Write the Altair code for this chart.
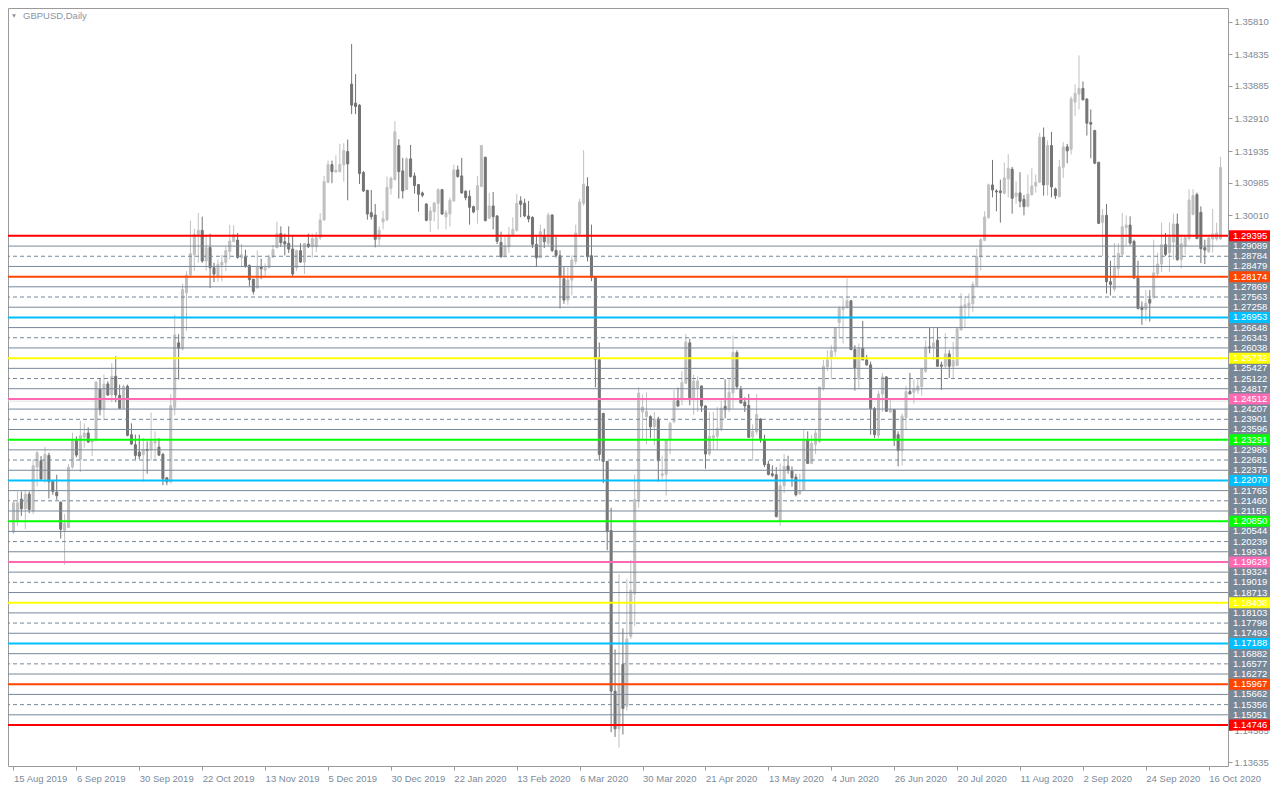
import altair as alt
import pandas as pd

# ---------------- data ----------------
date_labels = ["15 Aug 2019", "6 Sep 2019", "30 Sep 2019", "22 Oct 2019", "13 Nov 2019",
               "5 Dec 2019", "30 Dec 2019", "22 Jan 2020", "13 Feb 2020", "6 Mar 2020",
               "30 Mar 2020", "21 Apr 2020", "13 May 2020", "4 Jun 2020", "26 Jun 2020",
               "20 Jul 2020", "11 Aug 2020", "2 Sep 2020", "24 Sep 2020", "16 Oct 2020"]
LABEL_EVERY = 16

open_ = [
 1.2052,1.2086,1.2151,1.2122,1.2166,1.2115,1.2247,1.2266,1.2212,1.2282,
 1.2203,1.2172,1.2142,1.2058,1.2066,1.2247,1.2326,1.2269,1.2337,1.2349,
 1.2322,1.2329,1.2480,1.2421,1.2496,1.2463,1.2519,1.2462,1.2423,1.2489,
 1.2344,1.2314,1.2292,1.2285,1.2300,1.2298,1.2319,1.2307,1.2285,1.2215,
 1.2203,1.2426,1.2619,1.2601,1.2769,1.2822,1.2883,1.2943,1.2956,1.2864,
 1.2905,1.2844,1.2818,1.2852,1.2859,1.2893,1.2922,1.2927,1.2874,1.2876,
 1.2851,1.2810,1.2784,1.2847,1.2837,1.2844,1.2876,1.2904,1.2946,1.2922,
 1.2917,1.2900,1.2844,1.2895,1.2861,1.2915,1.2907,1.2907,1.2934,1.2987,
 1.3100,1.3153,1.3131,1.3132,1.3152,1.3192,1.3394,1.3337,1.3331,1.3129,
 1.3076,1.3009,1.3002,1.2929,1.2981,1.2988,1.3082,1.3108,1.3210,1.3134,
 1.3078,1.3170,1.3119,1.3093,1.3068,1.3035,1.2986,1.3012,1.3037,1.3078,
 1.2996,1.3005,1.3044,1.3137,1.3119,1.3073,1.3058,1.3027,1.3017,1.3088,
 1.3175,1.2992,1.3029,1.2999,1.2920,1.2881,1.2907,1.2941,1.2956,1.3044,
 1.3037,1.2999,1.2995,1.2914,1.2874,1.2937,1.2917,1.3002,1.2896,1.2880,
 1.2811,1.2747,1.2807,1.2863,1.2945,1.3037,1.3087,1.2880,1.2815,1.2569,
 1.2408,1.2264,1.2057,1.1576,1.1463,1.1656,1.1531,1.1740,1.1868,1.2150,
 1.2412,1.2398,1.2398,1.2368,1.2391,1.2222,1.2225,1.2329,1.2383,1.2446,
 1.2449,1.2498,1.2619,1.2451,1.2485,1.2490,1.2430,1.2286,1.2334,1.2339,
 1.2359,1.2429,1.2420,1.2469,1.2590,1.2480,1.2441,1.2432,1.2337,1.2352,
 1.2391,1.2327,1.2256,1.2227,1.2224,1.2088,1.2191,1.2250,1.2235,1.2217,
 1.2167,1.2178,1.2327,1.2258,1.2315,1.2323,1.2485,1.2547,1.2576,1.2593,
 1.2680,1.2719,1.2724,1.2745,1.2599,1.2511,1.2602,1.2568,1.2553,1.2422,
 1.2342,1.2466,1.2517,1.2412,1.2419,1.2344,1.2297,1.2395,1.2473,1.2471,
 1.2476,1.2488,1.2534,1.2607,1.2605,1.2627,1.2553,1.2549,1.2586,1.2549,
 1.2551,1.2658,1.2728,1.2730,1.2736,1.2790,1.2877,1.2926,1.2994,1.3092,
 1.3074,1.3074,1.3067,1.3110,1.3139,1.3057,1.3068,1.3049,1.3028,1.3063,
 1.3089,1.3100,1.3235,1.3092,1.3210,1.3080,1.3057,1.3145,1.3206,1.3198,
 1.3340,1.3364,1.3381,1.3349,1.3279,1.3255,1.3160,1.2980,1.3001,1.2802,
 1.2780,1.2842,1.2884,1.2964,1.2972,1.2923,1.2813,1.2726,1.2719,1.2750,
 1.2755,1.2826,1.2855,1.2913,1.2889,1.2921,1.2975,1.2868,1.2909,1.2931,
 1.3004,1.3063,1.3010,1.2904,1.2892,1.2930,1.2930,1.2930]

high = [
 1.2144,1.2174,1.2174,1.2179,1.2174,1.2271,1.2295,1.2280,1.2308,1.2290,
 1.2208,1.2224,1.2144,1.2106,1.2256,1.2350,1.2339,1.2386,1.2378,1.2366,
 1.2327,1.2504,1.2514,1.2524,1.2504,1.2558,1.2579,1.2494,1.2494,1.2494,
 1.2378,1.2344,1.2344,1.2334,1.2324,1.2410,1.2354,1.2334,1.2290,1.2217,
 1.2465,1.2703,1.2645,1.2796,1.2834,1.2985,1.2961,1.3008,1.2997,1.2943,
 1.2946,1.2859,1.2869,1.2883,1.2907,1.2973,1.2971,1.2948,1.2915,1.2898,
 1.2854,1.2810,1.2896,1.2871,1.2857,1.2883,1.2912,1.2982,1.2968,1.2946,
 1.2968,1.2941,1.2898,1.2917,1.2917,1.2946,1.2946,1.2951,1.3008,1.3119,
 1.3165,1.3165,1.3181,1.3215,1.3217,1.3228,1.3514,1.3424,1.3334,1.3134,
 1.3077,1.3077,1.3035,1.2968,1.3014,1.3117,1.3117,1.3283,1.3229,1.3173,
 1.3175,1.3212,1.3129,1.3095,1.3072,1.3037,1.3027,1.3041,1.3082,1.3080,
 1.3017,1.3054,1.3153,1.3150,1.3173,1.3076,1.3076,1.3030,1.3119,1.3212,
 1.3176,1.3068,1.3071,1.3002,1.2952,1.2938,1.2966,1.2995,1.3065,1.3058,
 1.3051,1.3044,1.2998,1.2938,1.2973,1.2961,1.3009,1.3004,1.2938,1.2896,
 1.2846,1.2846,1.2881,1.2973,1.3051,1.3196,1.3115,1.2973,1.2818,1.2620,
 1.2408,1.2266,1.2125,1.1701,1.1927,1.1764,1.1913,1.1969,1.2224,1.2486,
 1.2465,1.2471,1.2402,1.2412,1.2398,1.2281,1.2329,1.2383,1.2478,1.2485,
 1.2534,1.2646,1.2631,1.2524,1.2519,1.2490,1.2432,1.2412,1.2412,1.2427,
 1.2446,1.2510,1.2510,1.2641,1.2597,1.2490,1.2456,1.2466,1.2375,1.2466,
 1.2393,1.2344,1.2266,1.2252,1.2247,1.2258,1.2286,1.2281,1.2249,1.2227,
 1.2227,1.2361,1.2354,1.2344,1.2359,1.2487,1.2568,1.2597,1.2612,1.2665,
 1.2729,1.2753,1.2812,1.2748,1.2612,1.2617,1.2685,1.2583,1.2563,1.2427,
 1.2476,1.2529,1.2519,1.2451,1.2419,1.2354,1.2407,1.2490,1.2529,1.2510,
 1.2510,1.2544,1.2627,1.2665,1.2665,1.2665,1.2563,1.2648,1.2597,1.2622,
 1.2665,1.2768,1.2758,1.2767,1.2802,1.2901,1.2933,1.3013,1.3096,1.3167,
 1.3079,1.3108,1.3159,1.3184,1.3146,1.3103,1.3130,1.3062,1.3123,1.3142,
 1.3123,1.3248,1.3264,1.3225,1.3251,1.3084,1.3167,1.3220,1.3215,1.3357,
 1.3393,1.3480,1.3402,1.3352,1.3318,1.3257,1.3160,1.3020,1.3035,1.2865,
 1.2918,1.2918,1.3008,1.3001,1.2998,1.2928,1.2865,1.2743,1.2777,1.2777,
 1.2928,1.2889,1.2979,1.2948,1.2979,1.3006,1.3006,1.2943,1.2938,1.3079,
 1.3079,1.3069,1.3028,1.2928,1.2938,1.3020,1.2979,1.3176]

low = [
 1.2047,1.2071,1.2101,1.2061,1.2109,1.2106,1.2189,1.2210,1.2200,1.2153,
 1.2164,1.2149,1.2033,1.1955,1.2066,1.2242,1.2276,1.2232,1.2305,1.2319,
 1.2280,1.2324,1.2402,1.2387,1.2460,1.2441,1.2441,1.2421,1.2421,1.2339,
 1.2314,1.2269,1.2271,1.2203,1.2227,1.2266,1.2266,1.2280,1.2193,1.2193,
 1.2198,1.2402,1.2509,1.2596,1.2655,1.2820,1.2834,1.2859,1.2859,1.2836,
 1.2783,1.2801,1.2801,1.2803,1.2834,1.2869,1.2922,1.2871,1.2849,1.2844,
 1.2789,1.2764,1.2781,1.2810,1.2820,1.2844,1.2874,1.2904,1.2907,1.2881,
 1.2888,1.2818,1.2834,1.2859,1.2825,1.2903,1.2874,1.2891,1.2927,1.2985,
 1.3097,1.3097,1.3129,1.3129,1.3102,1.3046,1.3304,1.3304,1.3095,1.3071,
 1.2988,1.2988,1.2905,1.2910,1.2959,1.2983,1.3063,1.3105,1.3051,1.3051,
 1.3077,1.3114,1.3066,1.3012,1.3055,1.2983,1.2951,1.2983,1.2959,1.3002,
 1.2959,1.2968,1.3043,1.3114,1.3066,1.3046,1.2973,1.3007,1.2976,1.3085,
 1.2983,1.2990,1.2959,1.2915,1.2874,1.2874,1.2889,1.2938,1.2952,1.2995,
 1.2995,1.2980,1.2903,1.2846,1.2874,1.2903,1.2910,1.2891,1.2874,1.2722,
 1.2736,1.2733,1.2761,1.2853,1.2938,1.3030,1.2863,1.2804,1.2486,1.2266,
 1.2199,1.1998,1.1453,1.1439,1.1407,1.1446,1.1517,1.1732,1.1771,1.2125,
 1.2330,1.2315,1.2334,1.2313,1.2203,1.2212,1.2161,1.2286,1.2378,1.2427,
 1.2432,1.2495,1.2432,1.2404,1.2412,1.2412,1.2242,1.2281,1.2300,1.2300,
 1.2354,1.2393,1.2412,1.2422,1.2480,1.2437,1.2412,1.2334,1.2266,1.2344,
 1.2320,1.2247,1.2222,1.2217,1.2096,1.2071,1.2169,1.2227,1.2188,1.2159,
 1.2164,1.2178,1.2256,1.2256,1.2286,1.2320,1.2476,1.2534,1.2510,1.2578,
 1.2636,1.2617,1.2724,1.2597,1.2476,1.2480,1.2568,1.2551,1.2344,1.2334,
 1.2334,1.2412,1.2412,1.2410,1.2310,1.2249,1.2252,1.2361,1.2466,1.2437,
 1.2466,1.2461,1.2529,1.2588,1.2568,1.2547,1.2478,1.2544,1.2514,1.2514,
 1.2549,1.2656,1.2665,1.2694,1.2712,1.2787,1.2836,1.2923,1.2991,1.3055,
 1.3013,1.2979,1.3064,1.3055,1.3006,1.3035,1.3025,1.3001,1.3025,1.3060,
 1.3069,1.3098,1.3060,1.3060,1.3055,1.3050,1.3055,1.3113,1.3157,1.3183,
 1.3298,1.3318,1.3345,1.3240,1.3172,1.3154,1.2975,1.2879,1.2767,1.2761,
 1.2772,1.2821,1.2879,1.2909,1.2911,1.2811,1.2719,1.2673,1.2685,1.2683,
 1.2751,1.2813,1.2831,1.2879,1.2831,1.2868,1.2865,1.2842,1.2884,1.2925,
 1.3001,1.2930,1.2858,1.2855,1.2889,1.2889,1.2925,1.2928]

close = [
 1.2140,1.2140,1.2122,1.2166,1.2120,1.2251,1.2290,1.2211,1.2285,1.2203,
 1.2174,1.2161,1.2061,1.2078,1.2247,1.2326,1.2283,1.2341,1.2349,1.2322,
 1.2326,1.2502,1.2419,1.2495,1.2463,1.2519,1.2463,1.2423,1.2489,1.2342,
 1.2316,1.2282,1.2280,1.2300,1.2297,1.2324,1.2324,1.2283,1.2212,1.2203,
 1.2431,1.2643,1.2603,1.2779,1.2822,1.2886,1.2944,1.2956,1.2864,1.2904,
 1.2844,1.2825,1.2854,1.2861,1.2895,1.2924,1.2943,1.2875,1.2883,1.2849,
 1.2808,1.2773,1.2846,1.2841,1.2844,1.2876,1.2898,1.2946,1.2919,1.2915,
 1.2900,1.2825,1.2895,1.2861,1.2917,1.2907,1.2931,1.2934,1.2987,1.3102,
 1.3153,1.3132,1.3136,1.3153,1.3195,1.3155,1.3331,1.3327,1.3126,1.3074,
 1.3005,1.2997,1.2929,1.2956,1.2991,1.3085,1.3112,1.3251,1.3132,1.3074,
 1.3170,1.3117,1.3090,1.3064,1.3061,1.2986,1.3014,1.3038,1.3078,1.3005,
 1.3009,1.3046,1.3137,1.3117,1.3068,1.3054,1.3025,1.3011,1.3090,1.3210,
 1.2985,1.3029,1.2997,1.2923,1.2877,1.2910,1.2942,1.2959,1.3037,1.3034,
 1.2999,1.2990,1.2914,1.2874,1.2952,1.2922,1.3002,1.2896,1.2881,1.2815,
 1.2747,1.2807,1.2867,1.2948,1.3041,1.3094,1.2877,1.2815,1.2570,1.2285,
 1.2264,1.2054,1.1576,1.1463,1.1595,1.1524,1.1732,1.1878,1.2150,1.2469,
 1.2427,1.2414,1.2368,1.2391,1.2266,1.2227,1.2327,1.2378,1.2446,1.2430,
 1.2500,1.2622,1.2451,1.2505,1.2505,1.2430,1.2286,1.2339,1.2341,1.2363,
 1.2424,1.2419,1.2471,1.2590,1.2488,1.2439,1.2430,1.2336,1.2354,1.2404,
 1.2332,1.2254,1.2225,1.2222,1.2099,1.2191,1.2249,1.2237,1.2215,1.2164,
 1.2176,1.2327,1.2258,1.2318,1.2349,1.2487,1.2549,1.2568,1.2595,1.2663,
 1.2722,1.2726,1.2745,1.2599,1.2544,1.2602,1.2568,1.2553,1.2422,1.2344,
 1.2466,1.2517,1.2414,1.2419,1.2332,1.2297,1.2400,1.2473,1.2466,1.2482,
 1.2490,1.2541,1.2607,1.2604,1.2619,1.2549,1.2549,1.2586,1.2549,1.2566,
 1.2661,1.2729,1.2733,1.2738,1.2794,1.2877,1.2928,1.2996,1.3092,1.3077,
 1.3071,1.3069,1.3113,1.3142,1.3052,1.3068,1.3043,1.3027,1.3064,1.3089,
 1.3100,1.3235,1.3092,1.3210,1.3086,1.3060,1.3146,1.3206,1.3194,1.3350,
 1.3366,1.3381,1.3347,1.3277,1.3274,1.3157,1.2977,1.3001,1.2802,1.2794,
 1.2846,1.2887,1.2967,1.2972,1.2918,1.2813,1.2722,1.2719,1.2738,1.2738,
 1.2829,1.2855,1.2913,1.2884,1.2935,1.2975,1.2868,1.2916,1.2935,1.3047,
 1.3060,1.2931,1.2901,1.2897,1.2933,1.2945,1.2948,1.3144]

levels = [1.29395, 1.29089, 1.28784, 1.28479, 1.28174, 1.27869, 1.27563, 1.27258,
          1.26953, 1.26648, 1.26343, 1.26038, 1.25732, 1.25427, 1.25122, 1.24817,
          1.24512, 1.24207, 1.23901, 1.23596, 1.23291, 1.22986, 1.22681, 1.22375,
          1.22070, 1.21765, 1.21460, 1.21155, 1.20850, 1.20544, 1.20239, 1.19934,
          1.19629, 1.19324, 1.19019, 1.18713, 1.18408, 1.18103, 1.17798, 1.17493,
          1.17188, 1.16882, 1.16577, 1.16272, 1.15967, 1.15662, 1.15356, 1.15051,
          1.14746]
key_colors = ["#ff0000", "#ff4500", "#00bfff", "#ffff00", "#ff69b4", "#00ff00", "#00bfff",
              "#00ff00", "#ff69b4", "#ffff00", "#00bfff", "#ff4500", "#ff0000"]
axis_prices = [1.35810, 1.34835, 1.33885, 1.32910, 1.31935, 1.30985, 1.30010, 1.14585, 1.13635]
marker_price = [1.24445]
title_text = "GBPUSD,Daily"

# ---------------- tables ----------------
n = len(open_)
candles = pd.DataFrame({"bar": list(range(n)), "open": open_, "high": high,
                        "low": low, "close": close})
candles["dir"] = ["up" if c >= o else "down" for o, c in zip(open_, close)]

kinds, cols = [], []
for i, p in enumerate(levels):
    if i % 4 == 0:
        kinds.append("key"); cols.append(key_colors[i // 4])
    elif i % 4 == 2:
        kinds.append("dash"); cols.append("#778899")
    else:
        kinds.append("solid"); cols.append("#778899")
lev = pd.DataFrame({"price": levels, "kind": kinds, "color": cols,
                    "label": [f"{p:.5f}" for p in levels]})

# ---------------- layout / styles ----------------
W, H = 1220, 758
FONT = "Liberation Sans"
TXT = "#7d8a99"
SLATE = "#778899"

xscale = alt.Scale(domain=[-0.125, 307.625], nice=False, zero=False)
yscale = alt.Scale(domain=[1.13518, 1.36219], nice=False, zero=False)

js_arr = "[" + ",".join(f"'{d}'" for d in date_labels) + "]"
xaxis = alt.Axis(values=[i * LABEL_EVERY for i in range(len(date_labels))],
                 labelExpr=f"{js_arr}[round(datum.value/{LABEL_EVERY})]",
                 labelAlign="left", labelBaseline="top", labelPadding=3,
                 tickSize=4, domain=False, grid=False, labelFlush=False,
                 labelOverlap=False, title=None)
yaxis = alt.Axis(orient="right", values=axis_prices, format=".5f", tickSize=4,
                 labelPadding=2, domain=False, grid=False, labelFlush=False,
                 labelOverlap=False, labelAlign="left", labelBaseline="middle", title=None)

cscale = alt.Scale(domain=["up", "down"], range=["#c0c0c0", "#747474"])

def Y(field):
    return alt.Y(field, scale=yscale, axis=yaxis)

X = alt.X("bar:Q", scale=xscale, axis=xaxis)

marker = alt.Chart(pd.DataFrame({"price": marker_price})).mark_rule(
    color="#e2e2e2", strokeWidth=1).encode(y=Y("price:Q"))

wicks = alt.Chart(candles).mark_rule(strokeWidth=1).encode(
    x=X, y=Y("low:Q"), y2="high:Q",
    color=alt.Color("dir:N", scale=cscale, legend=None))

bodies = alt.Chart(candles).mark_bar(size=2, strokeWidth=1).encode(
    x=X, y=Y("open:Q"), y2="close:Q",
    color=alt.Color("dir:N", scale=cscale, legend=None),
    stroke=alt.Stroke("dir:N", scale=cscale, legend=None))

solid = alt.Chart(lev).transform_filter("datum.kind == 'solid'").mark_rule(
    color=SLATE, strokeWidth=1).encode(y=Y("price:Q"))
dashed = alt.Chart(lev).transform_filter("datum.kind == 'dash'").mark_rule(
    color=SLATE, strokeWidth=1, strokeDash=[4, 3]).encode(y=Y("price:Q"))
keyl = alt.Chart(lev).transform_filter("datum.kind == 'key'").mark_rule(
    strokeWidth=2).encode(y=Y("price:Q"), color=alt.Color("color:N", scale=None))

lab_gray = alt.Chart(lev).transform_filter("datum.kind != 'key'").mark_rule(
    strokeWidth=11, color=SLATE).encode(
    x=alt.value(W + 1), x2=alt.value(W + 42), y=Y("price:Q"))
lab_key = alt.Chart(lev).transform_filter("datum.kind == 'key'").mark_rule(
    strokeWidth=11).encode(
    x=alt.value(W + 1), x2=alt.value(W + 42), y=Y("price:Q"),
    color=alt.Color("color:N", scale=None))
lab_txt = alt.Chart(lev).mark_text(
    align="left", baseline="middle", color="white", font=FONT, fontSize=9.5).encode(
    x=alt.value(W + 5), y=Y("price:Q"), text="label:N")

title_df = pd.DataFrame({"t": [title_text]})
title = alt.Chart(title_df).mark_text(
    align="left", baseline="middle", font=FONT, fontSize=9.5, color="#8a95a3").encode(
    x=alt.value(15), y=alt.value(8), text="t:N")
tri = alt.Chart(title_df).mark_point(
    shape="triangle-down", filled=True, size=16, color="#8a95a3", opacity=1).encode(
    x=alt.value(6), y=alt.value(8))

chart = alt.layer(
    marker, wicks, bodies, solid, dashed, keyl, lab_gray, lab_key, lab_txt, title, tri
).properties(
    width=W, height=H,
    autosize=alt.AutoSizeParams(type="none"),
    padding={"left": 0, "top": 0, "right": 42, "bottom": 21},
    background="white",
).configure_view(
    stroke="#9a9a9a", strokeWidth=1
).configure_axis(
    labelFont=FONT, labelFontSize=9.5, labelColor=TXT, tickColor="#9a9a9a", tickWidth=1
)

chart.save("out.html", embed_options={"renderer": "svg", "actions": False})
